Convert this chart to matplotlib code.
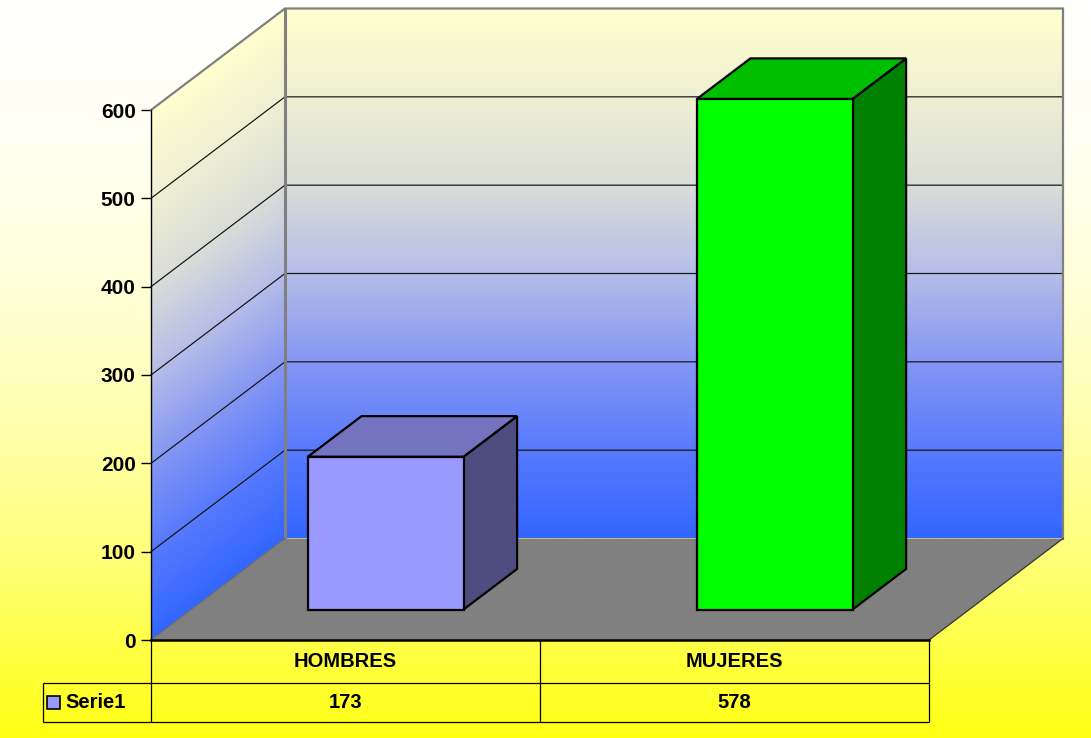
import numpy as np
import matplotlib
matplotlib.use('Agg')
import matplotlib.pyplot as plt
from matplotlib.patches import Polygon, Rectangle
from matplotlib.colors import LinearSegmentedColormap

# ---------------- data ----------------
categories = ['HOMBRES', 'MUJERES']
values = [173, 578]
series_name = 'Serie1'
yticks = [0, 100, 200, 300, 400, 500, 600]

# ---------------- styles ----------------
front_colors = ['#9999FF', '#00FF00']
top_colors = ['#7373BF', '#00BF00']
side_colors = ['#4D4D80', '#008000']
FONT = 'Liberation Sans'

W, H = 1091, 738
fig = plt.figure(figsize=(W / 100, H / 100), dpi=100)
ax = fig.add_axes([0, 0, 1, 1])

ymax = yticks[-1]
ncat = len(categories)
# layout (pixels, measured from top-left)
X0_PX, X1_PX = 151, 929
Y0_PX, YTOP_PX = 640, 110
ppc = (X1_PX - X0_PX) / ncat           # pixels per category unit
ppv = (Y0_PX - YTOP_PX) / ymax         # pixels per value unit
ax.set_xlim(-X0_PX / ppc, (W - X0_PX) / ppc)
ax.set_ylim(-(H - Y0_PX) / ppv, Y0_PX / ppv)
xl, yl = ax.get_xlim(), ax.get_ylim()

DX = 134 / ppc        # depth shift in category units
DV = 101.5 / ppv      # depth shift in value units


def P(x, v, z):
    return (x + z * DX, v + z * DV)


# ---------------- figure background gradient ----------------
bg_cmap = LinearSegmentedColormap.from_list(
    'bg', [(0.0, '#FFFFFF'), (0.2, '#FFFFF2'), (0.4, '#FFFFD6'),
           (0.55, '#FFFFB4'), (0.75, '#FFFF7C'), (1.0, '#FFFF14')])
g = np.linspace(0, 1, 400).reshape(-1, 1)
ax.imshow(g, cmap=bg_cmap, extent=(xl[0], xl[1], yl[0], yl[1]),
          origin='upper', aspect='auto', zorder=0, interpolation='bilinear')

# ---------------- walls ----------------
wall_cmap = LinearSegmentedColormap.from_list(
    'wall', [(0.0, '#3366FF'), (0.167, '#587AFC'), (0.333, '#8597F3'),
             (0.5, '#B5BDE8'), (0.667, '#DADDD8'), (0.833, '#EFEFD3'),
             (1.0, '#FFFFCF')])


def wall(verts, x_range, v_range, zfunc):
    poly = Polygon(verts, closed=True, facecolor='none', edgecolor='none',
                   transform=ax.transData)
    ax.add_patch(poly)
    xs = np.linspace(x_range[0], x_range[1], 200)
    vs = np.linspace(v_range[0], v_range[1], 600)
    XX, VV = np.meshgrid(xs, vs)
    ZZ = zfunc(XX)
    frac = np.clip((VV - ZZ * DV) / ymax, 0, 1)
    img = wall_cmap(frac)
    im = ax.imshow(img, extent=(x_range[0], x_range[1], v_range[0], v_range[1]),
                   origin='lower', aspect='auto', zorder=1,
                   interpolation='bilinear')
    im.set_clip_path(poly)


# side wall (left)
wall([P(0, 0, 0), P(0, ymax, 0), P(0, ymax, 1), P(0, 0, 1)],
     (0, DX), (0, ymax + DV), lambda X: np.clip(X / DX, 0, 1))
# back wall
wall([P(0, 0, 1), P(ncat, 0, 1), P(ncat, ymax, 1), P(0, ymax, 1)],
     (DX, ncat + DX), (DV, ymax + DV), lambda X: np.ones_like(X))

# gridlines
for v in yticks[1:-1]:
    a, b, c = P(0, v, 0), P(0, v, 1), P(ncat, v, 1)
    ax.plot([a[0], b[0], c[0]], [a[1], b[1], c[1]], color='#111111',
            lw=0.85, zorder=2)
# wall edges (gray)
a, b, c = P(0, ymax, 0), P(0, ymax, 1), P(ncat, ymax, 1)
ax.plot([a[0], b[0], c[0]], [a[1], b[1], c[1]], color='#808080', lw=1.6,
        zorder=2, solid_joinstyle='miter')
a, b = P(0, 0, 1), P(0, ymax, 1)
ax.plot([a[0], b[0]], [a[1], b[1]], color='#808080', lw=2.2, zorder=2)
a, b = P(ncat, 0, 1), P(ncat, ymax, 1)
ax.plot([a[0], b[0]], [a[1], b[1]], color='#808080', lw=1.6, zorder=2)

# ---------------- floor ----------------
floor = Polygon([P(0, 0, 0), P(ncat, 0, 0), P(ncat, 0, 1), P(0, 0, 1)],
                closed=True, facecolor='#808080', edgecolor='none', zorder=3)
ax.add_patch(floor)
a, b = P(ncat, 0, 0), P(ncat, 0, 1)
ax.plot([a[0], b[0]], [a[1], b[1]], color='#333333', lw=0.9, zorder=3)
a, b = P(0, 0, 0), P(0, 0, 1)
ax.plot([a[0], b[0]], [a[1], b[1]], color='#6a6a6a', lw=0.8, zorder=3)

# ---------------- bars ----------------
BW = 0.4
Z0, Z1 = 0.3, 0.7
for i, val in enumerate(values):
    x0, x1 = i + 0.5 - BW / 2, i + 0.5 + BW / 2
    front = [P(x0, 0, Z0), P(x1, 0, Z0), P(x1, val, Z0), P(x0, val, Z0)]
    top = [P(x0, val, Z0), P(x1, val, Z0), P(x1, val, Z1), P(x0, val, Z1)]
    side = [P(x1, 0, Z0), P(x1, 0, Z1), P(x1, val, Z1), P(x1, val, Z0)]
    for verts, col in ((side, side_colors[i]), (top, top_colors[i]),
                       (front, front_colors[i])):
        ax.add_patch(Polygon(verts, closed=True, facecolor=col,
                             edgecolor='black', lw=1.6, zorder=4,
                             joinstyle='miter'))

# ---------------- value axis ----------------
for s in ('top', 'right', 'bottom'):
    ax.spines[s].set_visible(False)
ax.spines['left'].set_position(('data', 0))
ax.spines['left'].set_bounds(0, ymax)
ax.spines['left'].set_linewidth(1.0)
ax.spines['left'].set_zorder(5)
ax.set_yticks(yticks)
ax.set_yticklabels([str(t) for t in yticks], fontfamily=FONT,
                   fontweight='bold', fontsize=15)
ax.tick_params(axis='y', direction='out', length=7, width=1, pad=4,
               colors='black')
ax.set_xticks([])

# ---------------- data table ----------------
R1 = -(683 - Y0_PX) / ppv
R2 = -(722 - Y0_PX) / ppv
LEG_X = -(X0_PX - 43) / ppc
lk = dict(color='black', lw=0.9, zorder=5, solid_capstyle='butt')
ax.plot([0, ncat], [0, 0], color='black', lw=1.8, zorder=5)
ax.plot([LEG_X, ncat], [R1, R1], **lk)
ax.plot([LEG_X, ncat], [R2, R2], **lk)
ax.plot([LEG_X, LEG_X], [R1, R2], **lk)
for i in range(ncat + 1):
    ax.plot([i, i], [0, R2], **lk)
for i, (cat, val) in enumerate(zip(categories, values)):
    ax.text(i + 0.5, R1 / 2, cat, ha='center', va='center', fontsize=14.5,
            fontweight='bold', fontfamily=FONT, zorder=6)
    ax.text(i + 0.5, (R1 + R2) / 2, str(val), ha='center', va='center',
            fontsize=14.5, fontweight='bold', fontfamily=FONT, zorder=6)
# legend key
kx0 = -(X0_PX - 47) / ppc
kw = 13 / ppc
kh = 13 / ppv
ymid = (R1 + R2) / 2
ax.add_patch(Rectangle((kx0, ymid - kh / 2), kw, kh, facecolor=front_colors[0],
                       edgecolor='black', lw=1.2, zorder=6))
ax.text(-(X0_PX - 65) / ppc, ymid, series_name, ha='left', va='center',
        fontsize=14.5, fontweight='bold', fontfamily=FONT, zorder=6)

fig.savefig('out.png', dpi=100)
